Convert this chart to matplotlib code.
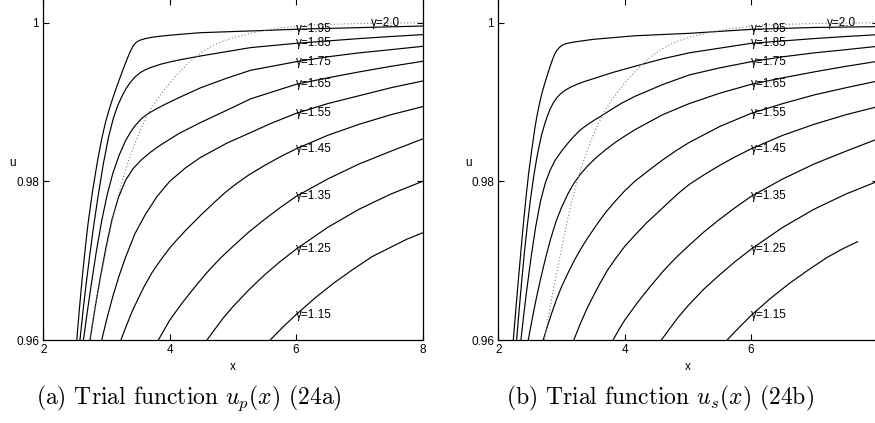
import numpy as np
import matplotlib
matplotlib.use("Agg")
import matplotlib.pyplot as plt

plt.rcParams['mathtext.fontset'] = 'cm'
plt.rcParams['font.family'] = ['Liberation Sans', 'DejaVu Sans']

# ---------------- data: panel (a) trial function u_p ----------------
xa_195 = [2.53, 2.57, 2.62, 2.67, 2.71, 2.78, 2.85, 2.92, 2.98, 3.04, 3.10, 3.16, 3.22, 3.28, 3.33, 3.375,
          3.42, 3.46, 3.50, 3.55, 3.62, 3.69, 3.8, 4.0, 4.485, 5.28, 6.0, 7.0, 8.0]
ua_195 = [0.9600, 0.9638, 0.9682, 0.9720, 0.9748, 0.9788, 0.9822, 0.9852, 0.9873, 0.9890, 0.9905, 0.9919,
          0.9932, 0.9945, 0.9955, 0.99635, 0.99705, 0.99745, 0.99768, 0.99785, 0.99800, 0.99812, 0.99825,
          0.99842, 0.99874, 0.99896, 0.99917, 0.99938, 0.99958]
xa_185 = [2.58, 2.63, 2.68, 2.74, 2.79, 2.87, 2.95, 3.03, 3.11, 3.18, 3.25, 3.31, 3.375, 3.45, 3.533, 3.61,
          3.69, 3.85, 4.0, 4.2, 4.485, 5.28, 6.0, 6.5, 7.0, 7.5, 8.0]
ua_185 = [0.9600, 0.9638, 0.9672, 0.9710, 0.9740, 0.9783, 0.9822, 0.9855, 0.9880, 0.9896, 0.9908, 0.9917,
          0.99245, 0.99315, 0.9937, 0.99405, 0.99432, 0.99475, 0.99505, 0.99538, 0.9958, 0.99686, 0.9974,
          0.9977, 0.9980, 0.99826, 0.99849]
xa_175 = [2.635, 2.69, 2.75, 2.84, 2.926, 3.01, 3.10, 3.20, 3.30, 3.38, 3.45, 3.56, 3.66, 3.77, 3.88, 4.0,
          4.2, 4.485, 4.9, 5.28, 6.0, 6.5, 7.0, 7.5, 8.0]
ua_175 = [0.9600, 0.9632, 0.9665, 0.9712, 0.9751, 0.9783, 0.9810, 0.9833, 0.9851, 0.9862, 0.9870, 0.98795,
          0.98855, 0.98905, 0.98952, 0.99000, 0.99075, 0.99178, 0.9930, 0.9940, 0.99508, 0.9957, 0.9962,
          0.9966, 0.99702]
xa_165 = [2.74, 2.82, 2.90, 2.99, 3.084, 3.19, 3.30, 3.42, 3.55, 3.70, 3.85, 4.0, 4.15, 4.485, 4.9, 5.28,
          6.0, 6.5, 7.0, 7.5, 8.0]
ua_165 = [0.9600, 0.9641, 0.9678, 0.9716, 0.9751, 0.9780, 0.9801, 0.9816, 0.9827, 0.9837, 0.98455, 0.9853,
          0.98605, 0.9874, 0.98895, 0.9904, 0.99223, 0.99305, 0.9938, 0.9945, 0.99513]
xa_155 = [2.925, 3.0, 3.1, 3.2, 3.3, 3.45, 3.613, 3.8, 4.0, 4.25, 4.485, 4.9, 5.28, 5.6, 6.0, 6.5, 7.0,
          7.5, 8.0]
ua_155 = [0.9600, 0.9625, 0.9655, 0.9681, 0.9704, 0.9734, 0.9758, 0.9781, 0.9800, 0.9817, 0.9830, 0.9848,
          0.98615, 0.9873, 0.98857, 0.9898, 0.9908, 0.9918, 0.99265]
xa_145 = [3.227, 3.3, 3.4, 3.5, 3.6, 3.72, 3.85, 4.0, 4.1, 4.25, 4.35, 4.5, 4.7, 4.85, 5.02, 5.25, 5.5,
          5.75, 6.0, 6.5, 7.0, 7.5, 8.0]
ua_145 = [0.9600, 0.9615, 0.9635, 0.9652, 0.9668, 0.9685, 0.9700, 0.9716, 0.9725, 0.9738, 0.9746, 0.9758,
          0.9773, 0.9784, 0.9795, 0.9808, 0.9820, 0.9831, 0.9841, 0.9858, 0.9872, 0.9884, 0.98941]
xa_135 = [3.82, 3.9, 4.0, 4.1, 4.2, 4.4, 4.6, 4.8, 5.0, 5.25, 5.5, 5.75, 6.0, 6.5, 7.0, 7.5, 8.0]
ua_135 = [0.9600, 0.9611, 0.9625, 0.9636, 0.9647, 0.9667, 0.9686, 0.9703, 0.9718, 0.9736, 0.9752, 0.9767,
          0.9781, 0.9803, 0.9822, 0.9838, 0.98534]
xa_125 = [4.59, 4.7, 4.85, 5.0, 5.25, 5.5, 5.75, 6.0, 6.5, 7.0, 7.5, 8.0]
ua_125 = [0.9600, 0.9612, 0.9628, 0.9642, 0.9663, 0.9682, 0.9699, 0.97145, 0.9742, 0.9765, 0.9784, 0.9800]
xa_115 = [5.59, 5.8, 6.0, 6.3, 6.6, 6.9, 7.2, 7.5, 7.75, 8.0]
ua_115 = [0.9600, 0.9617, 0.9632, 0.9653, 0.9672, 0.9689, 0.9705, 0.9717, 0.9727, 0.9735]

# ---------------- data: panel (b) trial function u_s ----------------
xb_195 = [2.237, 2.28, 2.32, 2.36, 2.395, 2.44, 2.48, 2.53, 2.58, 2.62, 2.66, 2.70, 2.737, 2.78, 2.82, 2.86,
          2.895, 2.93, 2.97, 3.0, 3.05, 3.1, 3.21, 3.5, 4.159, 5.02, 6.0, 7.0, 8.0]
ub_195 = [0.9600, 0.9641, 0.9678, 0.9714, 0.9745, 0.9781, 0.9810, 0.9840, 0.9868, 0.9886, 0.9901, 0.9914,
          0.9924, 0.9935, 0.9945, 0.9954, 0.9961, 0.99655, 0.9969, 0.9971, 0.9973, 0.99742, 0.99758,
          0.9979, 0.99835, 0.99866, 0.99916, 0.9994, 0.9995]
xb_185 = [2.29, 2.33, 2.37, 2.415, 2.46, 2.51, 2.56, 2.61, 2.65, 2.69, 2.737, 2.78, 2.82, 2.87, 2.922, 2.98,
          3.04, 3.1, 3.159, 3.25, 3.35, 3.527, 3.8, 4.159, 4.6, 5.02, 6.0, 6.5, 7.0, 7.5, 8.0]
ub_185 = [0.9600, 0.9638, 0.9674, 0.9712, 0.9745, 0.9778, 0.9806, 0.9830, 0.9846, 0.9860, 0.9873, 0.9883,
          0.9891, 0.9899, 0.9905, 0.9910, 0.99138, 0.99168, 0.99193, 0.99225, 0.99255, 0.9930, 0.9937,
          0.9945, 0.99545, 0.9962, 0.9974, 0.9977, 0.9980, 0.99826, 0.99849]
xb_175 = [2.358, 2.40, 2.45, 2.52, 2.59, 2.665, 2.74, 2.82, 2.895, 3.0, 3.1, 3.2, 3.3, 3.41, 3.527, 3.64,
          3.764, 3.95, 4.159, 4.6, 5.02, 5.5, 6.0, 6.5, 7.0, 7.5, 8.0]
ub_175 = [0.9600, 0.9630, 0.9663, 0.9705, 0.9742, 0.9774, 0.9797, 0.9814, 0.9826, 0.9838, 0.9848, 0.9857,
          0.9865, 0.98715, 0.98775, 0.9883, 0.98893, 0.98985, 0.9907, 0.9922, 0.99341, 0.9943, 0.99508,
          0.9957, 0.9962, 0.9966, 0.99702]
xb_165 = [2.474, 2.54, 2.6, 2.675, 2.75, 2.83, 2.92, 3.0, 3.1, 3.2, 3.3, 3.42, 3.55, 3.7, 3.85, 4.0, 4.159,
          4.6, 5.02, 5.5, 6.0, 6.5, 7.0, 7.5, 8.0]
ub_165 = [0.9600, 0.9628, 0.9652, 0.9679, 0.9704, 0.9728, 0.9751, 0.9767, 0.9784, 0.9798, 0.9809, 0.9820,
          0.9830, 0.9840, 0.9849, 0.9857, 0.9865, 0.9884, 0.9898, 0.9911, 0.99223, 0.99305, 0.9938,
          0.9945, 0.99513]
xb_155 = [2.71, 2.78, 2.85, 2.92, 3.0, 3.1, 3.2, 3.3, 3.4, 3.58, 3.7, 3.85, 4.0, 4.159, 4.4, 4.6, 4.8,
          5.02, 5.5, 6.0, 6.5, 7.0, 7.5, 8.0]
ub_155 = [0.9600, 0.9618, 0.9635, 0.9651, 0.9667, 0.9684, 0.9700, 0.9714, 0.9727, 0.9748, 0.9761, 0.9775,
          0.9788, 0.9800, 0.9815, 0.9827, 0.9838, 0.9849, 0.9869, 0.98857, 0.9898, 0.9909, 0.9918, 0.99265]
xb_145 = [3.195, 3.3, 3.4, 3.5, 3.6, 3.72, 3.85, 4.0, 4.159, 4.35, 4.5, 4.7, 4.85, 5.02, 5.25, 5.5, 5.75,
          6.0, 6.5, 7.0, 7.5, 8.0]
ub_145 = [0.9600, 0.9621, 0.9639, 0.9655, 0.9670, 0.9687, 0.9702, 0.9718, 0.9732, 0.9748, 0.9759, 0.9774,
          0.9785, 0.9796, 0.9808, 0.9820, 0.9831, 0.9841, 0.9858, 0.9872, 0.9884, 0.98941]
xb_135 = [3.816, 3.9, 4.0, 4.1, 4.2, 4.4, 4.6, 4.8, 5.0, 5.25, 5.5, 5.75, 6.0, 6.5, 7.0, 7.5, 8.0]
ub_135 = [0.9600, 0.9612, 0.9625, 0.9636, 0.9647, 0.9667, 0.9686, 0.9703, 0.9718, 0.9736, 0.9752, 0.9767,
          0.9781, 0.9803, 0.9822, 0.9838, 0.98534]
xb_125 = [4.58, 4.7, 4.85, 5.0, 5.25, 5.5, 5.75, 6.0, 6.5, 7.0, 7.5, 8.0]
ub_125 = [0.9600, 0.9613, 0.9629, 0.9643, 0.9664, 0.9682, 0.9699, 0.97145, 0.9742, 0.9765, 0.9784, 0.9800]
xb_115 = [5.62, 5.8, 6.0, 6.3, 6.6, 6.9, 7.2, 7.45, 7.684]
ub_115 = [0.9600, 0.9615, 0.9631, 0.9652, 0.9671, 0.9688, 0.9704, 0.9715, 0.97239]

# ---------------- gamma = 2.0 reference curve (dotted, both panels) ----------------
x_g20 = [2.73, 2.85, 3.0, 3.08, 3.16, 3.25, 3.35, 3.45, 3.56, 3.685, 3.8, 3.9, 4.03, 4.159, 4.28, 4.4,
         4.55, 4.7, 4.85, 5.0, 5.3, 5.7, 6.2, 7.0, 8.0]
u_g20 = [0.9600, 0.9655, 0.9715, 0.9746, 0.9774, 0.9801, 0.9826, 0.9848, 0.9869, 0.9889, 0.9903, 0.9914,
         0.9927, 0.9938, 0.9948, 0.9956, 0.9965, 0.9972, 0.9977, 0.9981, 0.9987, 0.9993, 0.9997, 0.9999,
         1.0000]

gamma_labels = ['1.95', '1.85', '1.75', '1.65', '1.55', '1.45', '1.35', '1.25', '1.15']
label_x = 6.0
label_x_g20 = [7.19, 7.20]
x_ticks = [2, 4, 6, 8]
y_ticks = [0.96, 0.98, 1.0]
y_ticklabels = ['0.96', '0.98', '1']

curves_a = [(xa_195, ua_195), (xa_185, ua_185), (xa_175, ua_175), (xa_165, ua_165),
            (xa_155, ua_155), (xa_145, ua_145), (xa_135, ua_135), (xa_125, ua_125),
            (xa_115, ua_115)]
curves_b = [(xb_195, ub_195), (xb_185, ub_185), (xb_175, ub_175), (xb_165, ub_165),
            (xb_155, ub_155), (xb_145, ub_145), (xb_135, ub_135), (xb_125, ub_125),
            (xb_115, ub_115)]

W, H = 875.0, 423.0
fig = plt.figure(figsize=(W / 100, H / 100), dpi=100)

FS = 8.5
panels = [
    (43.3, curves_a, label_x_g20[0], 232.5, 13.0, 188.5, r'(a) Trial function $u_p(x)$ (24a)'),
    (498.3, curves_b, label_x_g20[1], 687.5, 469.0, 659.7, r'(b) Trial function $u_s(x)$ (24b)'),
]

for left_px, curves, gx20, xlab_px, ylab_px, cap_px, caption in panels:
    ax = fig.add_axes([left_px / W, (H - 340.0) / H, 379.2 / W, 341.1 / H])
    ax.set_xlim(2, 8)
    ax.set_ylim(0.96, 1.003)
    for (xs, us), g in zip(curves, gamma_labels):
        ax.plot(xs, us, color='black', lw=0.85, solid_joinstyle='round')
        yl = np.interp(label_x, xs, us)
        ax.text(label_x, yl, '\u03b3=' + g, ha='left', va='center', fontsize=FS)
    ax.plot(x_g20, u_g20, color='0.5', lw=0.8, linestyle=(0, (1, 2)))
    ax.text(gx20, 0.99995, '\u03b3=2.0', ha='left', va='center', fontsize=FS)

    ax.set_xticks(x_ticks)
    ax.set_yticks(y_ticks)
    ax.set_yticklabels(y_ticklabels)
    ax.tick_params(direction='in', top=True, right=True, length=4, width=0.8,
                   labelsize=FS, pad=3)
    for sp in ax.spines.values():
        sp.set_linewidth(0.9)

    fig.text(xlab_px / W, 1 - 366.7 / H, 'x', ha='center', va='center', fontsize=FS)
    fig.text(ylab_px / W, 1 - 163.0 / H, 'u', ha='center', va='center', fontsize=FS)
    fig.text(cap_px / W, (H - 404.0) / H, caption, family='cmr10', fontsize=17,
             ha='center', va='baseline')

fig.savefig('out.png', dpi=100)
